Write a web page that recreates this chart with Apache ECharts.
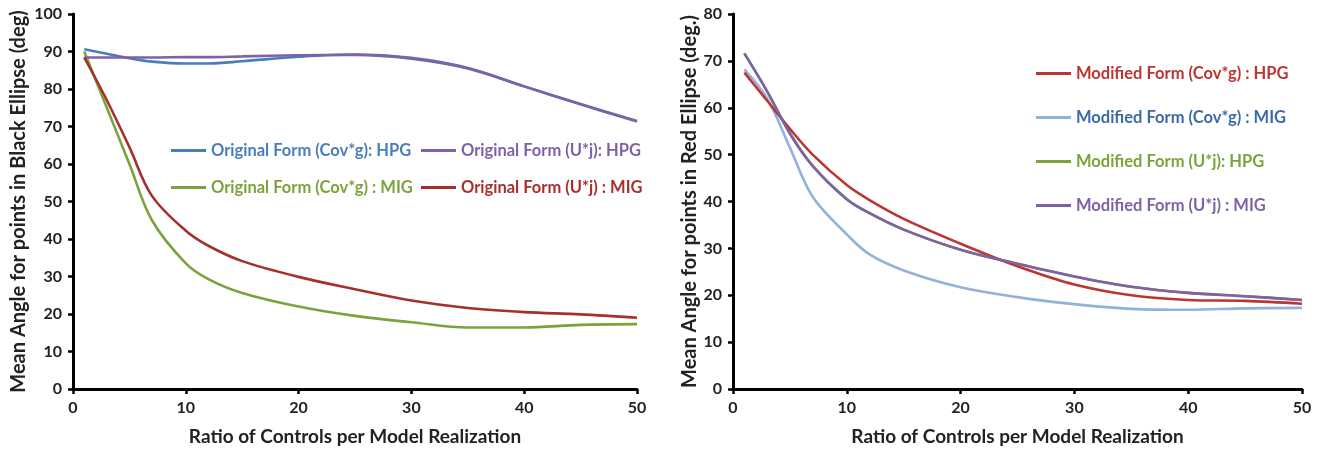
<!DOCTYPE html>
<html>
<head>
<meta charset="utf-8">
<script src="https://cdn.jsdelivr.net/npm/echarts@6/dist/echarts.min.js"></script>
<style>
  html, body { margin: 0; padding: 0; background: #fff; }
  #chart { width: 1322px; height: 454px; }
</style>
</head>
<body>
<div id="chart"></div>
<script>
// Ratio of controls per model realization (shared x values)
const ratios = [1, 3, 5, 7, 10, 12, 15, 20, 25, 30, 35, 40, 45, 50];

// Left panel: mean angle for points in black ellipse (deg)
const origCovgHPG = [90.6, 89.4, 88.2, 87.3, 86.8, 86.8, 87.4, 88.6, 89.2, 88.3, 85.6, 80.7, 75.9, 71.3];
const origUjHPG   = [88.4, 88.4, 88.4, 88.4, 88.5, 88.5, 88.7, 89.0, 89.1, 88.1, 85.5, 80.7, 76.0, 71.5];
const origCovgMIG = [90.0, 75.0, 60.0, 45.0, 33.5, 29.3, 25.6, 22.0, 19.5, 17.8, 16.4, 16.4, 17.1, 17.3];
const origUjMIG   = [88.4, 77.0, 64.5, 51.5, 42.2, 38.2, 34.1, 29.9, 26.6, 23.6, 21.6, 20.5, 19.9, 19.0];

// Right panel: mean angle for points in red ellipse (deg.)
const modCovgHPG = [67.5, 61.5, 55.5, 50.0, 43.5, 40.3, 36.3, 31.0, 26.2, 22.3, 20.0, 19.0, 18.8, 18.2];
const modCovgMIG = [68.2, 62.0, 51.5, 41.0, 33.0, 28.7, 25.3, 21.7, 19.6, 18.1, 17.1, 16.9, 17.2, 17.3];
const modUjHPG   = [71.6, 63.5, 54.5, 47.6, 40.5, 37.5, 34.0, 29.7, 26.7, 24.0, 21.8, 20.5, 19.8, 19.0];
const modUjMIG   = [71.6, 63.5, 54.5, 47.6, 40.5, 37.5, 34.0, 29.7, 26.7, 24.0, 21.8, 20.5, 19.8, 19.0];

const xTicks = [0, 10, 20, 30, 40, 50];

const FONT = 'Lato';
const pairs = ys => ratios.map((x, i) => [x, ys[i]]);

function line(name, ys, color, idx, z) {
  return {
    name, type: 'line', data: pairs(ys), xAxisIndex: idx, yAxisIndex: idx,
    smooth: 0.35, showSymbol: false, symbol: 'none', z: z || 2,
    lineStyle: { color, width: 2.6 }, itemStyle: { color }
  };
}

function xAxis(gridIndex) {
  return {
    type: 'value', gridIndex, min: 0, max: 50, interval: 10,
    name: 'Ratio of Controls per Model Realization',
    nameLocation: 'middle', nameGap: 38,
    nameTextStyle: { fontFamily: FONT, fontWeight: 'bold', fontSize: 19, color: '#222' },
    axisLine: { lineStyle: { color: '#000', width: 3 } },
    axisTick: { show: true, length: 5, lineStyle: { color: '#000', width: 2.5 } },
    axisLabel: { fontFamily: FONT, fontWeight: 'bold', fontSize: 16, color: '#222', margin: 11,
      formatter: v => xTicks.includes(v) ? String(v) : '' },
    splitLine: { show: false }
  };
}

function yAxis(gridIndex, max, name, gap) {
  return {
    type: 'value', gridIndex, min: 0, max, interval: 10,
    name, nameLocation: 'middle', nameGap: gap,
    nameTextStyle: { fontFamily: FONT, fontWeight: 'bold', fontSize: 20, color: '#222' },
    axisLine: { show: true, lineStyle: { color: '#000', width: 3 } },
    axisTick: { show: true, length: 5, lineStyle: { color: '#000', width: 2.5 } },
    axisLabel: { fontFamily: FONT, fontWeight: 'bold', fontSize: 16, color: '#222', margin: 11 },
    splitLine: { show: false }
  };
}

const C = {
  blue: '#4a7dbb', purple: '#7f62a5', green: '#7ba33b', red: '#a5302d',
  red2: '#bb3532', lightBlue: '#93b2d9', blueText: '#3d6aa6'
};

function legend(left, top, gap, items) {
  return {
    orient: 'vertical', left, top, itemGap: gap,
    icon: 'rect', itemWidth: 35, itemHeight: 3,
    textStyle: { fontFamily: FONT, fontWeight: 'bold', fontSize: 16.5 },
    selectedMode: false,
    data: items.map(([name, color]) => ({ name, textStyle: { color } }))
  };
}

const chart = echarts.init(document.getElementById('chart'), null, { renderer: 'canvas' });
chart.setOption({
  backgroundColor: '#fff',
  animation: false,
  grid: [
    { left: 73, top: 14, width: 564, height: 375 },
    { left: 733, top: 14, width: 569, height: 375 }
  ],
  xAxis: [xAxis(0), xAxis(1)],
  yAxis: [
    yAxis(0, 100, 'Mean Angle for points in Black Ellipse (deg)', 44),
    yAxis(1, 80, 'Mean Angle for points in Red Ellipse (deg.)', 33)
  ],
  legend: [
    legend(166, 137, 20, [
      ['Original Form (Cov*g): HPG', C.blue],
      ['Original Form (Cov*g) : MIG', C.green]
    ]),
    legend(416, 137, 20, [
      ['Original Form (U*j): HPG', C.purple],
      ['Original Form (U*j) : MIG', C.red]
    ]),
    legend(1031, 60, 27, [
      ['Modified Form (Cov*g) : HPG', C.red2],
      ['Modified Form (Cov*g) : MIG', C.blueText],
      ['Modified Form (U*j): HPG', C.green],
      ['Modified Form (U*j) : MIG', C.purple]
    ])
  ],
  series: [
    line('Original Form (Cov*g): HPG', origCovgHPG, C.blue, 0, 2),
    line('Original Form (U*j): HPG', origUjHPG, C.purple, 0, 3),
    line('Original Form (Cov*g) : MIG', origCovgMIG, C.green, 0, 2),
    line('Original Form (U*j) : MIG', origUjMIG, C.red, 0, 3),
    line('Modified Form (Cov*g) : HPG', modCovgHPG, C.red2, 1, 3),
    line('Modified Form (Cov*g) : MIG', modCovgMIG, C.lightBlue, 1, 2),
    line('Modified Form (U*j): HPG', modUjHPG, C.green, 1, 2),
    line('Modified Form (U*j) : MIG', modUjMIG, C.purple, 1, 4)
  ]
});
</script>
</body>
</html>
